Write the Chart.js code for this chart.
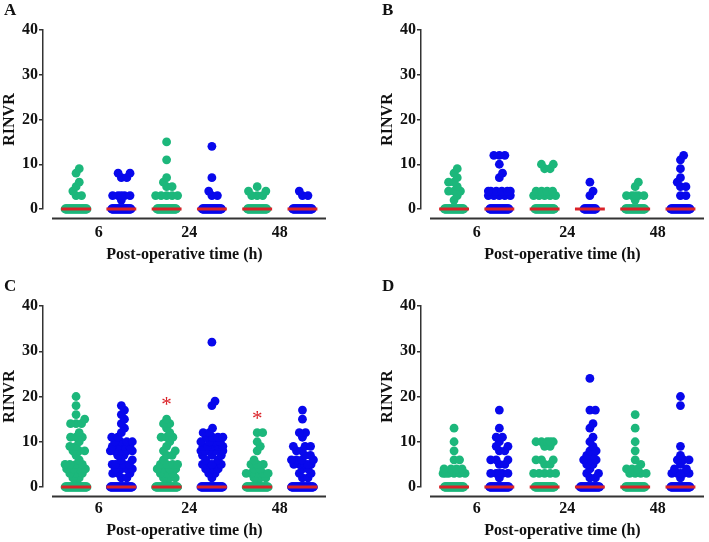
<!DOCTYPE html>
<html>
<head>
<meta charset="utf-8">
<script src="https://cdn.jsdelivr.net/npm/chart.js@4.4.1/dist/chart.umd.min.js"></script>
<style>
  body { margin: 0; background: #fff; }
  .panel { position: absolute; width: 331px; height: 266px; }
</style>
</head>
<body>
<div class="panel" style="left:0;top:0"><canvas id="chartA" width="331" height="266"></canvas></div>
<div class="panel" style="left:378px;top:0"><canvas id="chartB" width="331" height="266"></canvas></div>
<div class="panel" style="left:0;top:276px"><canvas id="chartC" width="331" height="266"></canvas></div>
<div class="panel" style="left:378px;top:276px"><canvas id="chartD" width="331" height="266"></canvas></div>
<script>
const timeLabels = ['6', '24', '48'];
const tickPositions = [1.5, 3.5, 5.5];
const groupPositions = [1, 2, 3, 4, 5, 6];

// non-zero RINVR values per group, order: 6h green, 6h blue, 24h green, 24h blue, 48h green, 48h blue
const valuesA = [
    [9, 8, 6, 5, 4, 3, 3],
    [8, 8, 7, 7, 3, 3, 3, 3, 3, 2],
    [15, 11, 7, 6, 5, 5, 3, 3, 3, 3, 3],
    [14, 7, 4, 3, 3],
    [5, 4, 4, 3, 3, 3],
    [4, 3, 3]
];
const zerosA = [45, 40, 40, 40, 40, 40];

const valuesB = [
    [9, 8, 7, 6, 6, 5, 4, 4, 4, 3, 2],
    [12, 12, 12, 10, 8, 7, 4, 4, 4, 4, 4, 4, 3, 3, 3, 3, 3],
    [10, 10, 9, 9, 4, 4, 4, 4, 3, 3, 3, 3, 3],
    [6, 4, 3],
    [6, 5, 3, 3, 3, 3, 3, 2],
    [12, 11, 9, 7, 6, 5, 5, 3, 3]
];
const zerosB = [40, 40, 40, 25, 40, 40];

const valuesC = [
    [20, 18, 16, 15, 14, 14, 14, 12, 11, 11, 11, 10, 9, 9, 8, 8, 8, 7, 6, 5, 5, 5, 5, 4, 4, 4, 4, 3, 3, 3, 2, 2, 1],
    [18, 17, 16, 15, 14, 13, 12, 11, 11, 10, 10, 10, 10, 9, 9, 9, 9, 8, 8, 8, 8, 8, 7, 7, 6, 6, 5, 5, 5, 5, 5, 4, 4, 4, 4, 3, 3, 3, 2, 2],
    [15, 14, 14, 13, 12, 11, 11, 11, 10, 9, 8, 8, 7, 7, 6, 5, 5, 5, 5, 4, 4, 4, 4, 3, 3, 3, 2, 2, 2, 1],
    [32, 19, 18, 13, 12, 12, 11, 11, 11, 11, 10, 10, 10, 10, 9, 9, 9, 9, 9, 8, 8, 8, 8, 8, 7, 7, 7, 6, 6, 5, 5, 5, 5, 5, 4, 4, 4, 3, 3, 2],
    [12, 12, 10, 9, 8, 6, 5, 5, 5, 4, 4, 3, 3, 3, 3, 3, 2, 2, 2, 1],
    [17, 15, 12, 12, 11, 9, 9, 9, 8, 8, 7, 7, 6, 6, 6, 6, 5, 5, 5, 5, 5, 4, 4, 3, 3, 2, 2]
];
const zerosC = [45, 45, 45, 45, 45, 45];
const starGroupsC = [3, 5];
const starValuesC = [19, 16];

const valuesD = [
    [13, 10, 8, 6, 6, 4, 4, 4, 4, 3, 3, 3, 3, 3, 3],
    [17, 13, 11, 11, 10, 9, 9, 8, 8, 6, 6, 6, 5, 5, 3, 3, 3, 3, 3, 2],
    [10, 10, 10, 10, 10, 9, 9, 6, 6, 6, 5, 5, 3, 3, 3, 3, 3],
    [24, 17, 17, 14, 13, 11, 10, 9, 8, 8, 7, 7, 6, 6, 6, 5, 5, 4, 3, 3, 2, 2],
    [16, 13, 10, 8, 6, 5, 4, 4, 4, 3, 3, 3, 3],
    [20, 18, 9, 7, 6, 6, 6, 5, 4, 4, 3, 3, 3, 3, 3, 2]
];
const zerosD = [40, 40, 40, 40, 40, 40];

const green = '#1cb77b';
const blue = '#0808ec';
const red = '#da2228';
const groupColors = [green, blue, green, blue, green, blue];
const serif = 'Liberation Serif, Times New Roman, serif';

function median(arr) {
    const s = arr.slice().sort((a, b) => a - b);
    const m = Math.floor(s.length / 2);
    return s.length % 2 ? s[m] : (s[m - 1] + s[m]) / 2;
}

// simple beeswarm in pixel space, returns x offsets (px)
function swarmOffsets(vals, yPix, minDist, maxHalf) {
    const placed = [];
    vals.forEach(v => {
        const py = yPix(v);
        let cands = [0];
        placed.forEach(q => {
            const dy = Math.abs(q.y - py);
            if (dy < minDist) {
                const dx = Math.sqrt(minDist * minDist - dy * dy);
                cands.push(q.x + dx, q.x - dx);
            }
        });
        cands = cands.filter(c => Math.abs(c) <= maxHalf + 1e-6)
            .sort((a, b) => Math.abs(a) - Math.abs(b));
        let best = cands.find(c => placed.every(q => Math.hypot(q.x - c, q.y - py) >= minDist - 1e-6));
        if (best === undefined) {
            // no free slot left: least crowded spot inside the cap
            let bestGap = -1;
            for (let c = -maxHalf; c <= maxHalf; c += 0.5) {
                const gap = Math.min(...placed.map(q => Math.hypot(q.x - c, q.y - py)));
                if (gap > bestGap) { bestGap = gap; best = c; }
            }
        }
        placed.push({ x: best, y: py });
    });
    return placed.map(p => p.x);
}

const panelDecor = {
    id: 'panelDecor',
    afterDraw(chart, args, opts) {
        const { ctx, chartArea, scales } = chart;
        ctx.save();
        // offset x axis line
        ctx.strokeStyle = '#333';
        ctx.lineWidth = 2;
        ctx.beginPath();
        ctx.moveTo(chartArea.left + 9, chartArea.bottom + 9.5);
        ctx.lineTo(chartArea.right, chartArea.bottom + 9.5);
        ctx.stroke();
        // panel letter
        ctx.fillStyle = '#111';
        ctx.font = 'bold 17px ' + serif;
        ctx.textBaseline = 'top';
        ctx.textAlign = 'left';
        ctx.fillText(opts.letter, 4, 2);
        // significance marks
        if (opts.starGroups) {
            ctx.fillStyle = red;
            ctx.font = '21px ' + serif;
            ctx.textAlign = 'center';
            ctx.textBaseline = 'alphabetic';
            opts.starGroups.forEach((g, i) => {
                ctx.fillText('*', scales.x.getPixelForValue(g), scales.y.getPixelForValue(opts.starValues[i]) + 10);
            });
        }
        ctx.restore();
    }
};

function makePanel(id, letter, values, zeros, plotBottom, starGroups, starValues) {
    const dotSets = values.map((vals, i) => ({
        type: 'scatter',
        data: [],
        backgroundColor: groupColors[i],
        borderWidth: 0,
        pointRadius: 4.4,
        pointHoverRadius: 4.4,
        clip: false,
        order: 1
    }));
    const medianSets = values.map((vals, i) => {
        const all = vals.concat(new Array(zeros[i]).fill(0));
        const med = median(all);
        return {
            type: 'line',
            data: [{ x: groupPositions[i] - 0.33, y: med }, { x: groupPositions[i] + 0.33, y: med }],
            borderColor: red,
            borderWidth: 3,
            pointRadius: 0,
            clip: false,
            order: 0
        };
    });

    const chart = new Chart(document.getElementById(id), {
        type: 'scatter',
        data: { datasets: dotSets.concat(medianSets) },
        options: {
            responsive: false,
            animation: false,
            devicePixelRatio: 1,
            layout: { padding: { top: 30, right: 5, left: 0, bottom: 0 } },
            plugins: {
                legend: { display: false },
                tooltip: { enabled: false },
                panelDecor: { letter: letter, starGroups: starGroups, starValues: starValues }
            },
            scales: {
                x: {
                    type: 'linear',
                    min: 0.27,
                    max: 6.52,
                    afterBuildTicks: scale => { scale.ticks = tickPositions.map(v => ({ value: v })); },
                    afterFit: scale => { scale.height = 266 - plotBottom; },
                    grid: { display: false },
                    border: { display: false },
                    ticks: {
                        padding: 6 - (plotBottom - 209),
                        color: '#111',
                        font: { family: serif, size: 16, weight: 'bold' },
                        callback: (v, i) => timeLabels[i]
                    },
                    title: {
                        display: true,
                        text: 'Post-operative time (h)',
                        color: '#111',
                        padding: { top: 0, bottom: 2 },
                        font: { family: serif, size: 16, weight: 'bold' }
                    }
                },
                y: {
                    min: 0,
                    max: 40,
                    afterBuildTicks: scale => { scale.ticks = [0, 10, 20, 30, 40].map(v => ({ value: v })); },
                    afterFit: scale => { scale.width = 43; },
                    grid: { drawOnChartArea: false, tickLength: 4, color: '#333', lineWidth: 1.5 },
                    border: { display: true, color: '#333', width: 1.5 },
                    ticks: {
                        padding: 1,
                        color: '#111',
                        font: { family: serif, size: 16, weight: 'bold' }
                    },
                    title: {
                        display: true,
                        text: 'RINVR',
                        color: '#111',
                        padding: 0,
                        font: { family: serif, size: 16, weight: 'bold' }
                    }
                }
            }
        },
        plugins: [panelDecor]
    });

    // lay out the dots once the scales exist
    const xs = chart.scales.x;
    const ys = chart.scales.y;
    values.forEach((vals, i) => {
        const cx = xs.getPixelForValue(groupPositions[i]);
        const sorted = vals.slice().sort((a, b) => a - b);
        const offs = swarmOffsets(sorted, v => ys.getPixelForValue(v), 5.5, 11);
        const pts = sorted.map((v, k) => ({ x: xs.getValueForPixel(cx + offs[k]), y: v }));
        const n = zeros[i];
        const half = Math.min(11, (n - 1) * 0.25);
        for (let k = 0; k < n; k++) {
            const off = n > 1 ? -half + 2 * half * k / (n - 1) : 0;
            pts.push({ x: xs.getValueForPixel(cx + off), y: 0 });
        }
        chart.data.datasets[i].data = pts;
    });
    chart.update('none');
    return chart;
}

makePanel('chartA', 'A', valuesA, zerosA, 209);
makePanel('chartB', 'B', valuesB, zerosB, 209);
makePanel('chartC', 'C', valuesC, zerosC, 211, starGroupsC, starValuesC);
makePanel('chartD', 'D', valuesD, zerosD, 211);
</script>
</body>
</html>
